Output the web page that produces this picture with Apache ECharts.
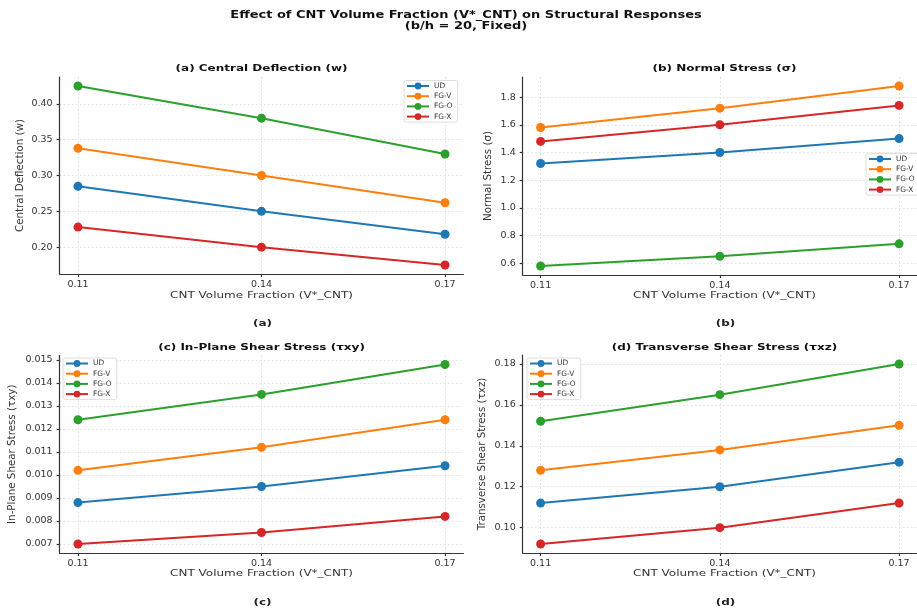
<!DOCTYPE html>
<html>
<head>
<meta charset="utf-8">
<script src="https://cdn.jsdelivr.net/npm/echarts@6/dist/echarts.min.js"></script>
<style>
  html, body { margin: 0; padding: 0; background: #fff; }
  #chart { width: 917px; height: 608px; }
</style>
</head>
<body>
<div id="chart"></div>
<script>
// CNT volume fraction sweep (b/h = 20)
const fractions = [0.11, 0.14, 0.17];
const laminates = ['UD', 'FG-V', 'FG-O', 'FG-X'];

// one row per laminate, in the order of `laminates`
const deflection = [
  [0.285, 0.250, 0.218],
  [0.338, 0.300, 0.262],
  [0.425, 0.380, 0.330],
  [0.228, 0.200, 0.175]
];
const normalStress = [
  [1.32, 1.40, 1.50],
  [1.58, 1.72, 1.88],
  [0.58, 0.65, 0.74],
  [1.48, 1.60, 1.74]
];
const inPlaneShear = [
  [0.0088, 0.0095, 0.0104],
  [0.0102, 0.0112, 0.0124],
  [0.0124, 0.0135, 0.0148],
  [0.0070, 0.0075, 0.0082]
];
const transverseShear = [
  [0.112, 0.120, 0.132],
  [0.128, 0.138, 0.150],
  [0.152, 0.165, 0.180],
  [0.092, 0.100, 0.112]
];

const xTicks = [0.11, 0.14, 0.17];
const deflectionTicks = [0.20, 0.25, 0.30, 0.35, 0.40];
const normalTicks = [0.6, 0.8, 1.0, 1.2, 1.4, 1.6, 1.8];
const inPlaneTicks = [0.007, 0.008, 0.009, 0.010, 0.011, 0.012, 0.013, 0.014, 0.015];
const transverseTicks = [0.10, 0.12, 0.14, 0.16, 0.18];

const colors = ['#1f77b4', '#ff7f0e', '#2ca02c', '#d62728'];
const FONT = 'DejaVu Sans';
const xName = 'CNT Volume Fraction (V*_CNT)';
const SQUASH = 0.75; // vertical squeeze of the heading/label glyphs

// panel frames (pixels) and decorations
const panels = [
  { title: '(a) Central Deflection (w)', yName: 'Central Deflection (w)', data: deflection, ticks: deflectionTicks, digits: 2,
    grid: { left: 59.6, right: 453.6, top: 77, bottom: 334 }, nameGap: 34, caption: '(a)',
    cx: 261.5, titleY: 69, xNameY: 295.7, captionY: 323.3, legend: { left: 404, top: 80.5 } },
  { title: '(b) Normal Stress (σ)', yName: 'Normal Stress (σ)', data: normalStress, ticks: normalTicks, digits: 1,
    grid: { left: 522.7, right: -9, top: 77, bottom: 333 }, nameGap: 29, caption: '(b)',
    cx: 724.5, titleY: 69, xNameY: 295.7, captionY: 323.3, legend: { left: 866, top: 153.5 } },
  { title: '(c) In-Plane Shear Stress (τxy)', yName: 'In-Plane Shear Stress (τxy)', data: inPlaneShear, ticks: inPlaneTicks, digits: 3,
    grid: { left: 59.6, right: 453.6, top: 355.5, bottom: 55 }, nameGap: 42, caption: '(c)',
    cx: 261.5, titleY: 347.3, xNameY: 574, captionY: 602.5, legend: { left: 63, top: 358 } },
  { title: '(d) Transverse Shear Stress (τxz)', yName: 'Transverse Shear Stress (τxz)', data: transverseShear, ticks: transverseTicks, digits: 2,
    grid: { left: 522.7, right: -9, top: 355, bottom: 55 }, nameGap: 35, caption: '(d)',
    cx: 724.5, titleY: 347.3, xNameY: 574, captionY: 602.5, legend: { left: 527, top: 358 } }
];

// 5% padding on each side of the data range
function padded(values) {
  const lo = Math.min.apply(null, values), hi = Math.max.apply(null, values);
  const m = (hi - lo) * 0.05;
  return [lo - m, hi + m];
}
const xRange = padded(fractions);

const axisLineStyle = { color: '#333', width: 1.2 };
const gridLineStyle = { color: '#e0e0e0', width: 0.8, type: [2, 2] };

function label(text, x, y, size, weight, color) {
  return {
    type: 'text', x: x, y: y, scaleX: 1, scaleY: SQUASH, silent: true,
    style: { text: text, fontFamily: FONT, fontSize: size, fontWeight: weight, fill: color,
      align: 'center', verticalAlign: 'middle' }
  };
}

const grids = [], xAxes = [], yAxes = [], series = [], legends = [], graphics = [];

graphics.push(label('Effect of CNT Volume Fraction (V*_CNT) on Structural Responses', 466, 15.7, 13, 'bold', '#111'));
graphics.push(label('(b/h = 20, Fixed)', 466, 26.9, 13, 'bold', '#111'));

panels.forEach(function (p, i) {
  const yRange = padded([].concat.apply([], p.data));
  const g = p.grid;
  grids.push({ left: g.left, right: g.right, top: g.top, bottom: g.bottom, containLabel: false });

  xAxes.push({
    type: 'value', gridIndex: i, min: xRange[0], max: xRange[1],
    axisLine: { show: true, lineStyle: axisLineStyle },
    axisTick: { show: true, length: 3, customValues: xTicks, lineStyle: axisLineStyle },
    axisLabel: { customValues: xTicks, margin: 6, fontFamily: FONT, fontSize: 9.5, color: '#333',
      formatter: function (v) { return v.toFixed(2); } },
    splitLine: { show: true, lineStyle: gridLineStyle }
  });
  yAxes.push({
    type: 'value', gridIndex: i, min: yRange[0], max: yRange[1],
    name: p.yName, nameLocation: 'middle', nameGap: p.nameGap, nameRotate: 90,
    nameTextStyle: { fontFamily: FONT, fontSize: 10.3, color: '#333' },
    axisLine: { show: true, lineStyle: axisLineStyle },
    axisTick: { show: true, length: 3, customValues: p.ticks, lineStyle: axisLineStyle },
    axisLabel: { customValues: p.ticks, margin: 7, fontFamily: FONT, fontSize: 9.5, color: '#333',
      formatter: function (v) { return v.toFixed(p.digits); } },
    splitLine: { show: true, lineStyle: gridLineStyle }
  });

  graphics.push(label(p.title, p.cx, p.titleY, 12, 'bold', '#111'));
  graphics.push(label(xName, p.cx, p.xNameY, 12, 'normal', '#333'));
  graphics.push(label(p.caption, p.cx + 1, p.captionY, 12, 'bold', '#222'));

  legends.push({
    data: laminates.map(function (n) { return n + ' '.repeat(i); }),
    formatter: function (n) { return n.trim(); },
    orient: 'vertical', left: p.legend.left, top: p.legend.top,
    itemWidth: 22, itemHeight: 8.5, itemGap: 3.2,
    padding: [2, 5, 2, 2], borderColor: '#d6d6d6', borderWidth: 0.8, borderRadius: 2,
    backgroundColor: '#fff',
    textStyle: { fontFamily: FONT, fontSize: 7.4, color: '#333' }
  });

  laminates.forEach(function (name, k) {
    series.push({
      type: 'line', name: name + ' '.repeat(i), xAxisIndex: i, yAxisIndex: i,
      data: fractions.map(function (x, j) { return [x, p.data[k][j]]; }),
      symbol: 'circle', symbolSize: 9,
      lineStyle: { width: 2, color: colors[k] },
      itemStyle: { color: colors[k] },
      emphasis: { disabled: true }, silent: true, animation: false
    });
  });
});

const chart = echarts.init(document.getElementById('chart'), null, { renderer: 'canvas' });
chart.setOption({
  animation: false,
  backgroundColor: '#fff',
  legend: legends,
  grid: grids,
  xAxis: xAxes,
  yAxis: yAxes,
  series: series,
  graphic: { elements: graphics }
});
</script>
</body>
</html>
